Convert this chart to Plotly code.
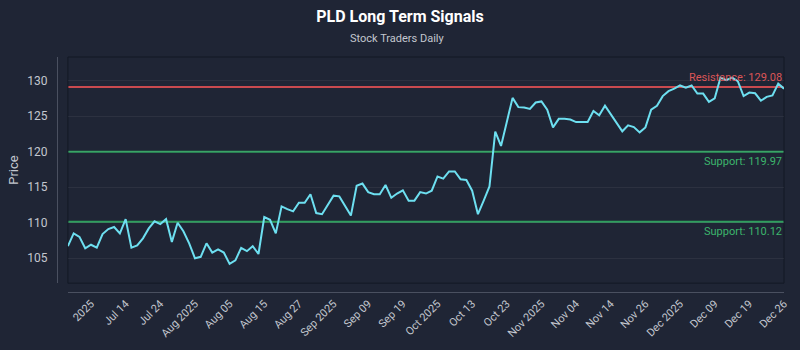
import plotly.graph_objects as go

prices = [
    106.7, 108.5, 108.0, 106.4, 106.9, 106.5, 108.4, 109.1, 109.4, 108.5,
    110.5, 106.5, 106.8, 107.8, 109.2, 110.2, 109.8, 110.5, 107.3, 110.0,
    108.8, 107.1, 105.0, 105.2, 107.1, 105.8, 106.25, 105.8, 104.2, 104.7,
    106.45, 106.0, 106.7, 105.6, 110.8, 110.4, 108.5, 112.3, 111.9, 111.6,
    112.8, 112.8, 114.0, 111.35, 111.2, 112.5, 113.8, 113.7, 112.3, 111.0,
    115.2, 115.5, 114.3, 114.0, 114.0, 115.3, 113.5, 114.1, 114.55, 113.1,
    113.1, 114.3, 114.1, 114.5, 116.5, 116.2, 117.2, 117.2, 116.1, 116.0,
    114.5, 111.2, 113.1, 115.1, 122.8, 120.8, 124.15, 127.55, 126.25, 126.2,
    126.0, 126.9, 127.05, 125.9, 123.4, 124.6, 124.6, 124.5, 124.15, 124.2,
    124.15, 125.7, 125.1, 126.45, 125.3, 124.15, 122.85, 123.7, 123.45, 122.7,
    123.4, 125.9, 126.45, 127.8, 128.5, 128.85, 129.3, 129.0, 129.3, 128.15,
    128.15, 127.0, 127.5, 130.4, 130.05, 130.4, 129.9, 127.8, 128.3, 128.2,
    127.15, 127.7, 127.9, 129.55, 128.85,
]

tick_labels = [
    "2025", "Jul 14", "Jul 24", "Aug 2025", "Aug 05", "Aug 15", "Aug 27",
    "Sep 2025", "Sep 09", "Sep 19", "Oct 2025", "Oct 13", "Oct 23",
    "Nov 2025", "Nov 04", "Nov 14", "Nov 26", "Dec 2025", "Dec 09",
    "Dec 19", "Dec 26",
]

resistance = [129.08]
supports = [119.97, 110.12]

x_idx = list(range(len(prices)))
tick_vals = list(range(4, len(prices), 6))[: len(tick_labels)]

BG = "#1f2535"
FONT = "Roboto"
TXT = "#c3c7cf"
RED_LINE = "#c94a4f"
RED_TXT = "#dc5557"
GREEN_LINE = "#2f9e5e"
GREEN_TXT = "#3cb56c"

W, H = 800, 350
ML, MR, MT, MB = 57, 10, 57, 54

fig = go.Figure()
fig.add_trace(go.Scatter(
    x=x_idx, y=prices, mode="lines",
    line=dict(color="#6ddff0", width=2),
    hoverinfo="skip", showlegend=False,
))

for r in resistance:
    fig.add_shape(type="line", xref="x domain", yref="y", x0=0, x1=1, y0=r, y1=r,
                  line=dict(color=RED_LINE, width=2), layer="below")
    fig.add_annotation(xref="x domain", yref="y", x=1, y=r, xanchor="right",
                       yanchor="bottom", yshift=1, showarrow=False,
                       text=f"Resistance: {r:.2f}",
                       font=dict(family=FONT, size=11, color=RED_TXT))
for s in supports:
    fig.add_shape(type="line", xref="x domain", yref="y", x0=0, x1=1, y0=s, y1=s,
                  line=dict(color=GREEN_LINE, width=2), layer="below")
    fig.add_annotation(xref="x domain", yref="y", x=1, y=s, xanchor="right",
                       yanchor="top", yshift=-1, showarrow=False,
                       text=f"Support: {s:.2f}",
                       font=dict(family=FONT, size=11, color=GREEN_TXT))

# inner plot box border
fig.add_shape(type="rect", xref="x domain", yref="y domain", x0=0, x1=1, y0=0, y1=1,
              line=dict(color="#131925", width=1), layer="below")

# subtitle, centred on the page
fig.add_annotation(xref="paper", yref="paper", x=(W / 2 - ML) / (W - ML - MR), y=1,
                   yshift=19, xanchor="center", yanchor="middle", showarrow=False,
                   text="Stock Traders Daily",
                   font=dict(family=FONT, size=11, color=TXT))

fig.update_layout(
    width=W, height=H,
    paper_bgcolor=BG, plot_bgcolor=BG,
    margin=dict(l=ML, r=MR, t=MT, b=MB),
    font=dict(family=FONT, color=TXT),
    title=dict(
        text="<b>PLD Long Term Signals</b>",
        x=0.5, xanchor="center", y=1 - 16 / H, yanchor="middle",
        font=dict(family=FONT, size=16, color="#ffffff"),
    ),
    xaxis=dict(
        domain=[0.015, 1], anchor="free", position=0,
        range=[0, len(prices) - 1],
        tickmode="array", tickvals=tick_vals, ticktext=tick_labels,
        tickangle=-45, tickfont=dict(size=11, color=TXT),
        showgrid=False, zeroline=False,
        showline=True, linecolor="#4a5060", linewidth=1,
        ticks="",
    ),
    yaxis=dict(
        domain=[0.0377, 1], anchor="free", position=0,
        range=[101.5, 133.3],
        tickmode="linear", tick0=105, dtick=5,
        tickfont=dict(size=12, color=TXT),
        ticklabelstandoff=7,
        showgrid=True, gridcolor="rgba(255,255,255,0.06)", gridwidth=1,
        zeroline=False,
        showline=True, linecolor="#4a5060", linewidth=1,
        ticks="",
        title=dict(text="Price", font=dict(size=13, color=TXT), standoff=4),
    ),
)

fig.write_html("out.html")
